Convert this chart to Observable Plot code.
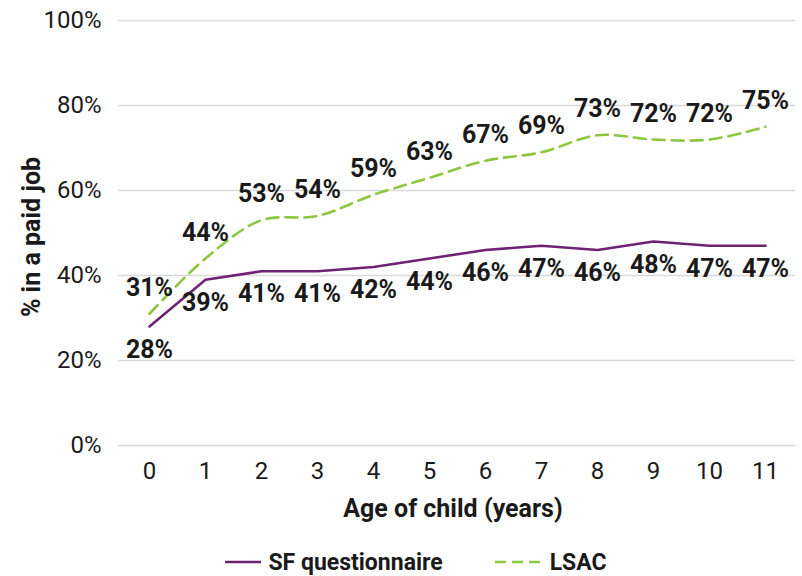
<!DOCTYPE html>
<html>
<head>
<meta charset="utf-8">
<script src="https://cdn.jsdelivr.net/npm/d3@7"></script>
<script src="https://cdn.jsdelivr.net/npm/@observablehq/plot@0.6"></script>
<style>
  body { margin: 0; background: #fff; font-family: Roboto, sans-serif; }
  #legend { display: flex; justify-content: center; align-items: center; height: 40px; margin-top: 6px;
            font-weight: bold; font-size: 23px; color: #1a1a1a; padding-left: 30px; }
  .item { display: flex; align-items: center; margin: 0 26px; }
  .item svg { margin-right: 7px; }
</style>
</head>
<body>
<div id="chart"></div>
<script>
const ages = [0, 1, 2, 3, 4, 5, 6, 7, 8, 9, 10, 11];
const sfValues = [28, 39, 41, 41, 42, 44, 46, 47, 46, 48, 47, 47];
const lsacValues = [31, 44, 53, 54, 59, 63, 67, 69, 73, 72, 72, 75];
const seriesNames = ["SF questionnaire", "LSAC"];
const yTicks = [0, 20, 40, 60, 80, 100];
const xTitle = "Age of child (years)";
const yTitle = "% in a paid job";

const purple = "#6e2372";
const green = "#8dc63f";

const sf = ages.map((a, i) => ({age: a, value: sfValues[i]}));
const lsac = ages.map((a, i) => ({age: a, value: lsacValues[i]}));

const chart = Plot.plot({
  width: 802,
  height: 536,
  marginLeft: 118,
  marginRight: 7,
  marginTop: 20,
  marginBottom: 91,
  style: {fontFamily: "Roboto, sans-serif", fontSize: "24px", color: "#1a1a1a", background: "#fff"},
  x: {type: "point", domain: ages, padding: 0.5, axis: null},
  y: {domain: [0, 100], axis: null},
  marks: [
    Plot.gridY(yTicks, {stroke: "#d9d9d9", strokeOpacity: 1, strokeWidth: 1.5}),
    Plot.axisY(yTicks, {tickSize: 0, tickPadding: 17, tickFormat: d => d + "%", fontSize: 24, label: null}),
    Plot.axisX(ages, {tickSize: 0, tickPadding: 16, fontSize: 24, label: null}),
    Plot.line(lsac, {x: "age", y: "value", stroke: green, strokeWidth: 2.6, strokeDasharray: "12,7", curve: "catmull-rom"}),
    Plot.line(sf, {x: "age", y: "value", stroke: purple, strokeWidth: 2.6}),
    Plot.text(lsac, {x: "age", y: "value", text: d => d.value + "%", dy: -26, fontWeight: "bold", fontSize: 25, fill: "#1a1a1a"}),
    Plot.text(sf, {x: "age", y: "value", text: d => d.value + "%", dy: 23, fontWeight: "bold", fontSize: 25, fill: "#1a1a1a"}),
    Plot.text([xTitle], {frameAnchor: "bottom", dy: 71, dx: -4, fontWeight: "bold", fontSize: 25, fill: "#1a1a1a"}),
    Plot.text([yTitle], {frameAnchor: "left", textAnchor: "middle", rotate: -90, dx: -87, dy: 4, fontWeight: "bold", fontSize: 25, fill: "#1a1a1a"})
  ]
});
document.getElementById("chart").appendChild(chart);

const legend = document.createElement("div");
legend.id = "legend";
legend.innerHTML = `
  <div class="item"><svg width="36" height="6"><line x1="0" y1="3" x2="36" y2="3" stroke="${purple}" stroke-width="2.6"/></svg>${seriesNames[0]}</div>
  <div class="item"><svg width="48" height="6"><line x1="0" y1="3" x2="48" y2="3" stroke="${green}" stroke-width="2.6" stroke-dasharray="11,6"/></svg>${seriesNames[1]}</div>`;
document.body.appendChild(legend);
</script>
</body>
</html>
